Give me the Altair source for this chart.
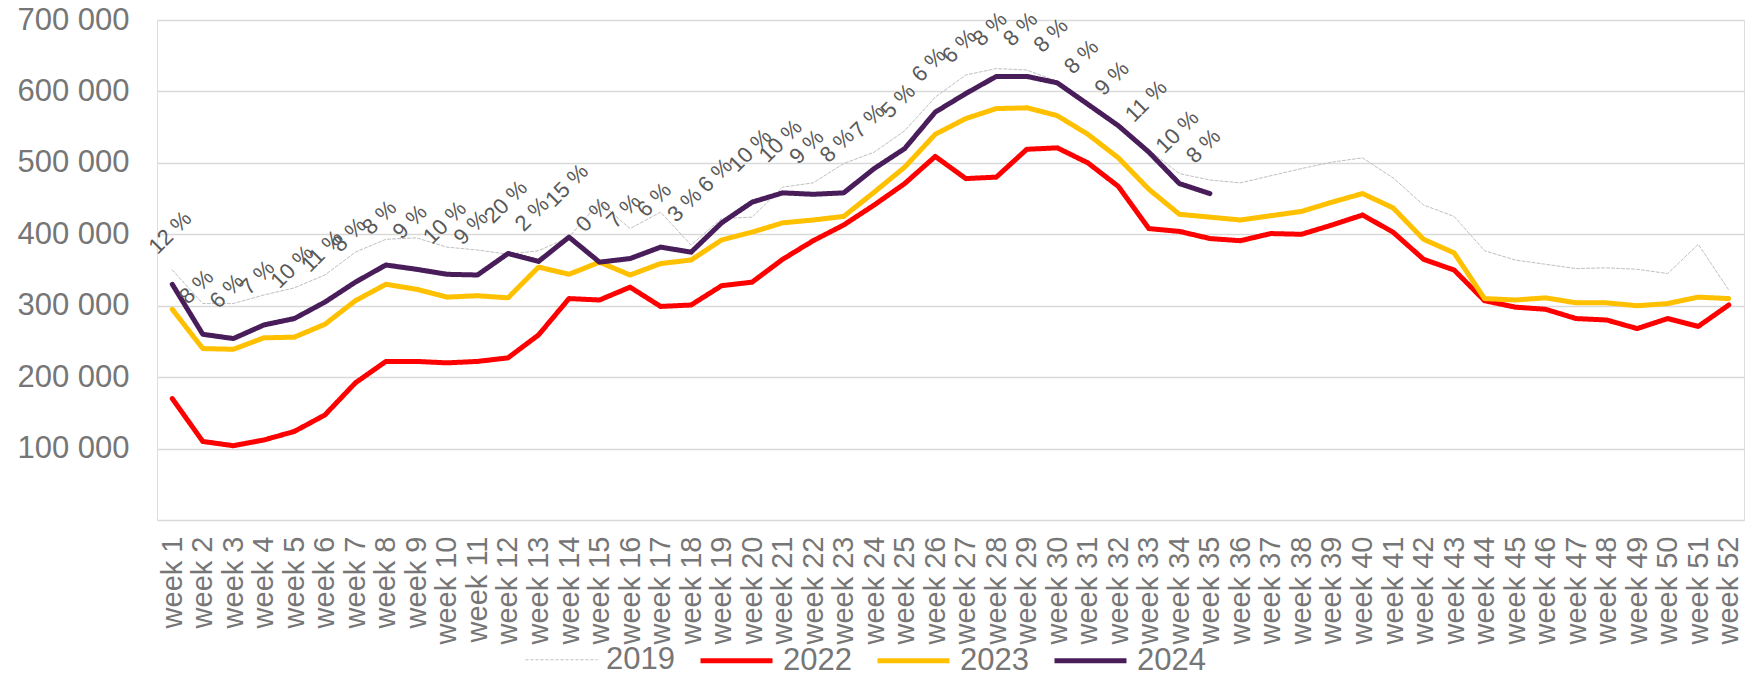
import altair as alt
import pandas as pd

weeks = ["week %d" % i for i in range(1, 53)]
years = ["2019", "2022", "2023", "2024"]

# values in thousands
v2019 = [350, 303, 303, 315, 325, 343, 375, 393, 395, 382, 378, 372, 377, 396, 445, 408,
         431, 385, 422, 424, 466, 472, 499, 515, 545, 592, 623, 632, 630, 614, 586, 553,
         518, 485, 476, 472, 482, 492, 501, 507, 479, 441, 425, 377, 364, 358, 352, 353,
         351, 345, 386, 322]
v2022 = [170, 110, 104, 112, 124, 147, 192, 222, 222, 220, 222, 227, 259, 310, 308, 326,
         299, 301, 328, 333, 365, 391, 413, 441, 471, 509, 478, 480, 519, 521, 500, 467,
         408, 404, 394, 391, 401, 400, 413, 427, 403, 365, 350, 307, 298, 295, 282, 280,
         268, 282, 271, 301]
v2023 = [295, 240, 239, 255, 256, 274, 307, 330, 323, 312, 314, 311, 354, 344, 361, 343,
         359, 364, 392, 403, 416, 420, 425, 459, 494, 540, 562, 576, 577, 566, 540, 507,
         463, 428, 424, 420, 426, 432, 445, 457, 437, 393, 374, 310, 308, 311, 304, 304,
         300, 303, 312, 310]
v2024 = [330, 260, 254, 273, 282, 305, 333, 357, 351, 344, 343, 373, 362, 396, 361, 366,
         382, 375, 416, 445, 458, 456, 458, 492, 520, 571, 597, 621, 621, 612, 582, 552,
         515, 471, 457]
pct2024 = [12, 8, 6, 7, 10, 11, 8, 8, 9, 10, 9, 20, 2, 15, 0, 7, 6, 3, 6, 10, 10, 9, 8,
           7, 5, 6, 6, 8, 8, 8, 8, 9, 11, 10, 8]

colors = ["#BFBFBF", "#FF0000", "#FFC000", "#481D5A"]

rows = []
for yr, vals in zip(years, [v2019, v2022, v2023, v2024]):
    for w, v in zip(weeks, vals):
        rows.append({"week": w, "year": yr, "value": v * 1000})
df = pd.DataFrame(rows)

lab = pd.DataFrame({
    "week": weeks[:len(v2024)],
    "value": [v * 1000 for v in v2024],
    "label": ["%d %%" % p for p in pct2024],
})

x_enc = alt.X("week:N", sort=weeks,
              scale=alt.Scale(type="point", padding=0.5),
              axis=alt.Axis(title=None, labelAngle=270, labelFontSize=29,
                            labelColor="#767676", labelPadding=16, domain=False,
                            ticks=False, grid=False, labelOverlap=False,
                            labelBound=False, labelFont="Liberation Sans"))
y_enc = alt.Y("value:Q",
              scale=alt.Scale(domain=[0, 700000], nice=False),
              axis=alt.Axis(title=None,
                            values=[0, 100000, 200000, 300000, 400000, 500000, 600000, 700000],
                            labelExpr="datum.value == 0 ? '' : replace(format(datum.value, ','), ',', ' ')",
                            labelFontSize=31, labelColor="#767676", labelPadding=28,
                            domain=False, ticks=False, gridColor="#D9D9D9", gridWidth=1.5,
                            labelFont="Liberation Sans"))

lines = alt.Chart(df).mark_line(strokeCap="round", strokeJoin="round").encode(
    x=x_enc,
    y=y_enc,
    color=alt.Color("year:N", scale=alt.Scale(domain=years, range=colors),
                    legend=alt.Legend(title=None, orient="none", direction="horizontal",
                                      legendX=368, legendY=602, symbolType="stroke",
                                      symbolSize=5184, labelFontSize=31,
                                      labelFont="Liberation Sans",
                                      labelColor="#767676", labelOffset=8,
                                      columnPadding=15, padding=0)),
    strokeDash=alt.StrokeDash("year:N", scale=alt.Scale(domain=years,
                              range=[[3, 2], [1, 0], [1, 0], [1, 0]]), legend=None),
    strokeWidth=alt.StrokeWidth("year:N", scale=alt.Scale(type="ordinal", domain=years,
                                range=[1, 5, 5, 5]), legend=None),
    order=alt.Order("year:N"),
)

labels = alt.Chart(lab).mark_text(
    angle=315, align="left", baseline="alphabetic", dx=10, dy=-31,
    fontSize=22, color="#595959", font="Liberation Sans"
).encode(
    x=alt.X("week:N", sort=weeks, scale=alt.Scale(type="point", padding=0.5)),
    y=alt.Y("value:Q"),
    text="label:N",
)

chart = alt.layer(lines, labels).properties(
    width=1587, height=500,
    autosize=alt.AutoSizeParams(type="none"),
    padding={"left": 149, "top": 12, "right": 4, "bottom": 155},
).configure_view(stroke=None).configure(font="Liberation Sans")

chart.save("out.html", embed_options={"renderer": "svg", "actions": False})
